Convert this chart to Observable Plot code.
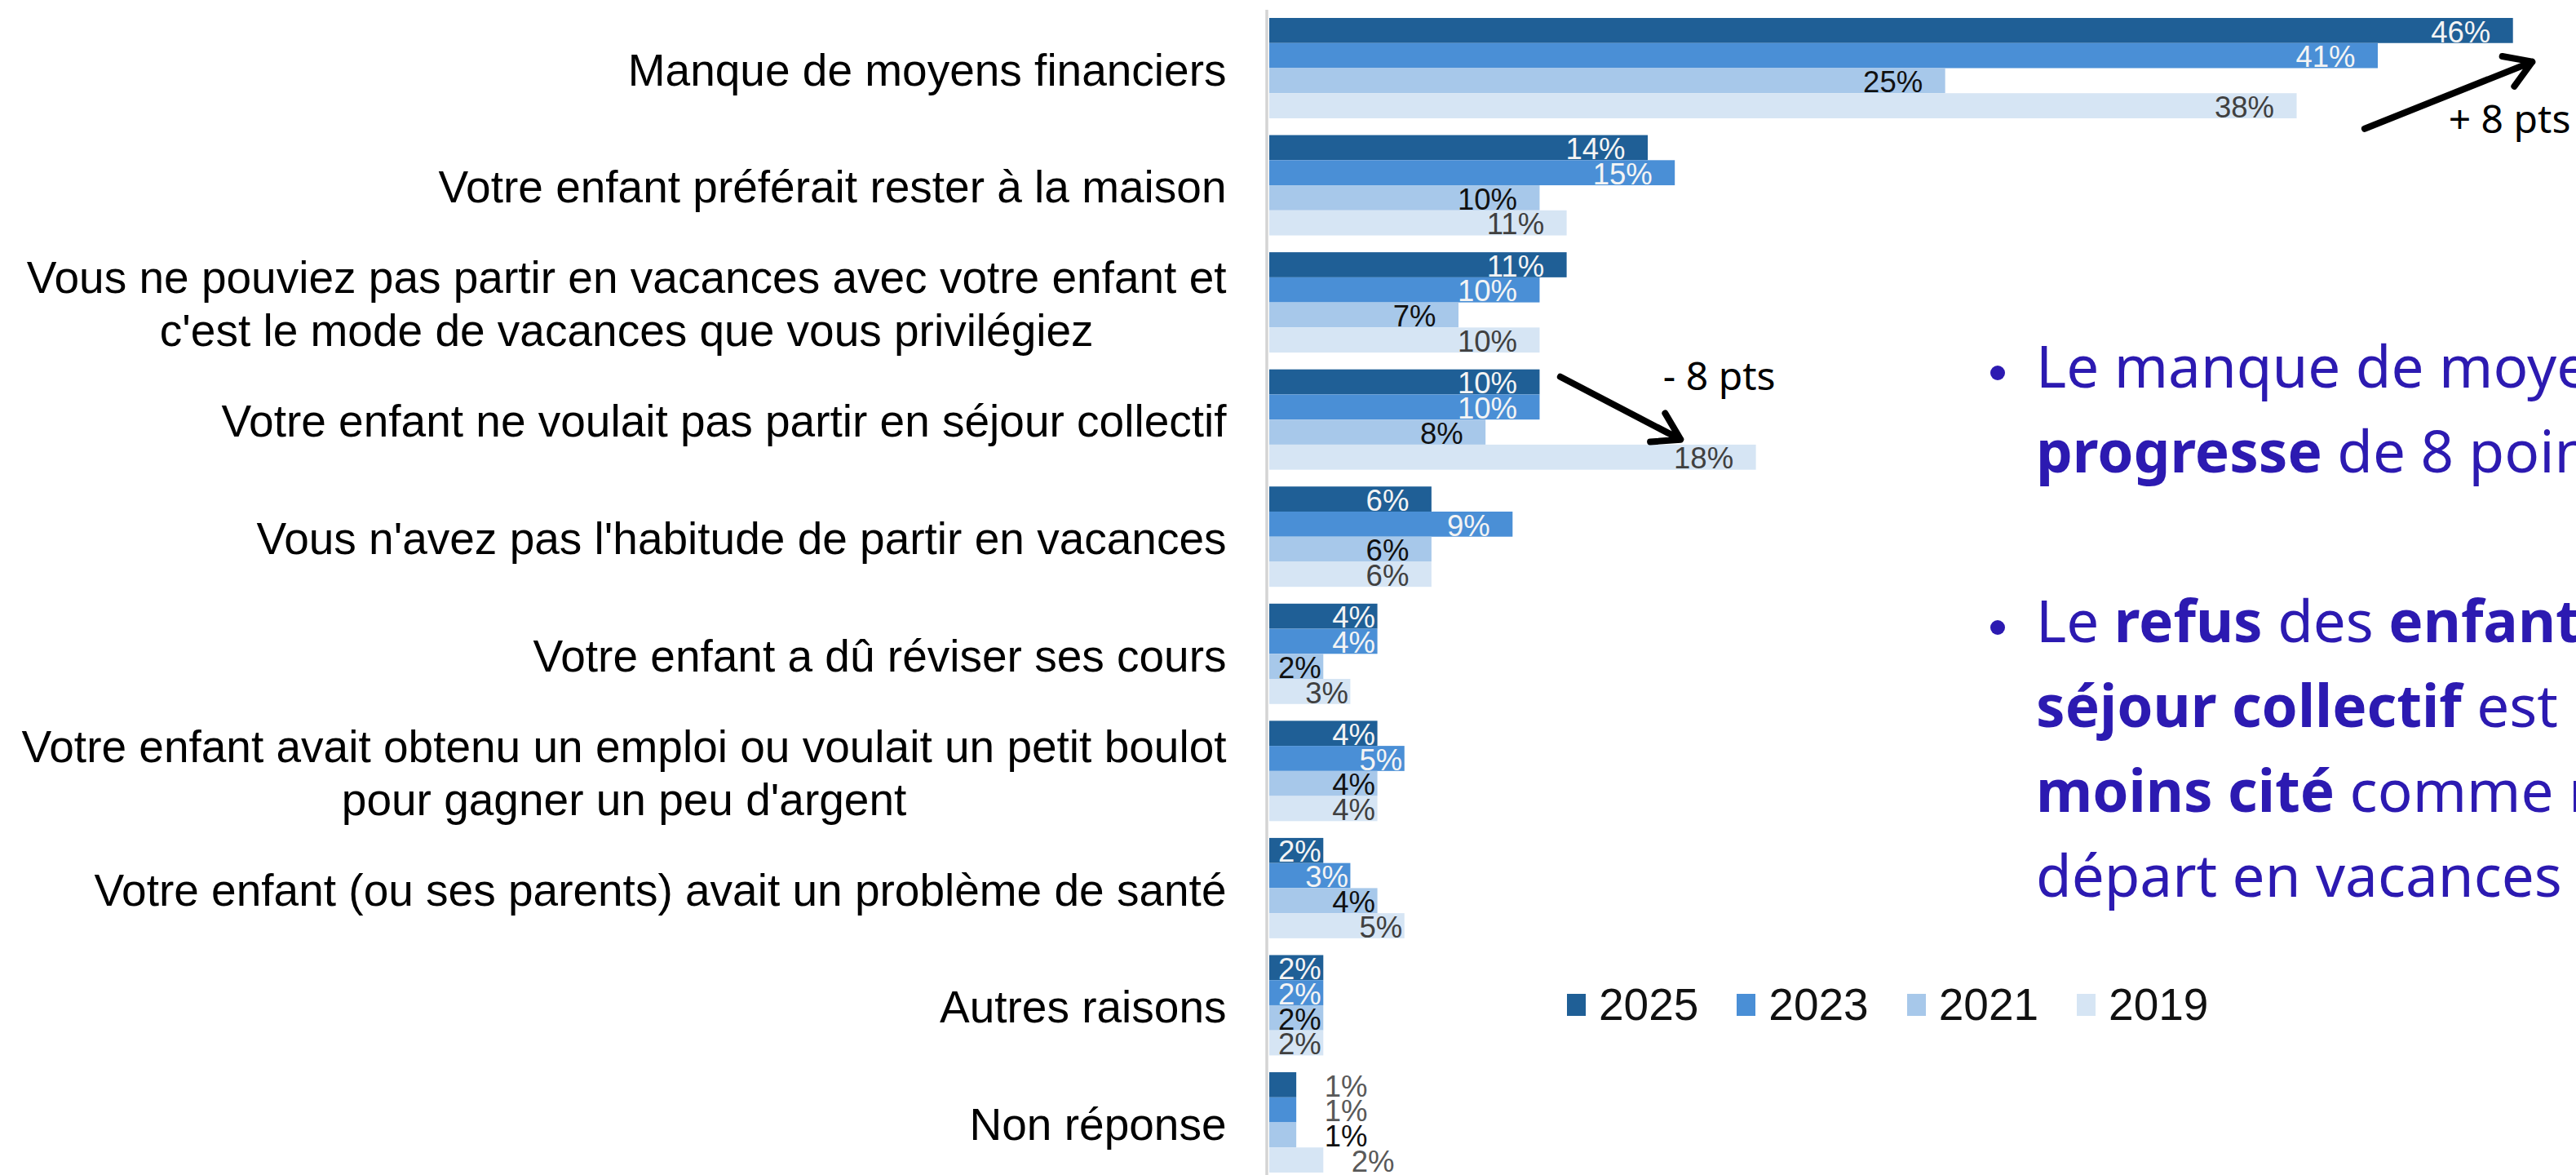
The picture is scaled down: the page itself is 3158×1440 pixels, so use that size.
<!DOCTYPE html>
<html>
<head>
<meta charset="utf-8">
<script src="https://cdn.jsdelivr.net/npm/d3@7"></script>
<script src="https://cdn.jsdelivr.net/npm/@observablehq/plot@0.6"></script>
<style>
  html, body { margin: 0; padding: 0; background: #fff; overflow: hidden; width: 3158px; height: 1440px; }
  #wrap { position: relative; width: 3158px; height: 1440px; overflow: hidden; background: #fff; }
  #chart { position: absolute; left: 0; top: 0; }
  .note { position: absolute; left: 2496px; font-family: "Noto Sans", sans-serif; font-size: 71px; line-height: 104px; color: #2c1ab1; white-space: nowrap; }
  .note b { font-weight: 700; }
  .bullet { position: absolute; width: 18px; height: 18px; border-radius: 50%; background: #2c1ab1; }
  #legendBox { position: absolute; left: 1921px; top: 1199px; }
  #legendBox > div { font-family: "Liberation Sans", Arial, sans-serif; font-size: 55px; color: #111; margin: 0; }
  #legendBox span { margin-right: 47px; }
  #legendBox span > svg { margin-right: 16px; }
</style>
</head>
<body>
<div id="wrap">
  <div id="chart"></div>
  <div id="legendBox"></div>
  <div class="bullet" style="left:2440px; top:448px;"></div>
  <div class="note" style="top:396px;">Le manque de moyens financiers<br><b>progresse</b> de 8 points</div>
  <div class="bullet" style="left:2440px; top:760px;"></div>
  <div class="note" style="top:708px;">Le <b>refus</b> des <b>enfants</b> de partir en<br><b>séjour collectif</b> est le motif le<br><b>moins cité</b> comme motif de non-<br>départ en vacances</div>
</div>
<script>
// ---------- data ----------
const categories = [
  "Manque de moyens financiers",
  "Votre enfant préférait rester à la maison",
  "Vous ne pouviez pas partir en vacances avec votre enfant et\nc'est le mode de vacances que vous privilégiez",
  "Votre enfant ne voulait pas partir en séjour collectif",
  "Vous n'avez pas l'habitude de partir en vacances",
  "Votre enfant a dû réviser ses cours",
  "Votre enfant avait obtenu un emploi ou voulait un petit boulot\npour gagner un peu d'argent",
  "Votre enfant (ou ses parents) avait un problème de santé",
  "Autres raisons",
  "Non réponse"
];
const years = ["2025", "2023", "2021", "2019"];
const values2025 = [46, 14, 11, 10, 6, 4, 4, 2, 2, 1];
const values2023 = [41, 15, 10, 10, 9, 4, 5, 3, 2, 1];
const values2021 = [25, 10, 7, 8, 6, 2, 4, 4, 2, 1];
const values2019 = [38, 11, 10, 18, 6, 3, 4, 5, 2, 2];
const yearColors = ["#1f5f96", "#4a8fd6", "#a7c8ea", "#d6e5f4"];
const labelColors = ["#f4f4f4", "#f4f4f4", "#111111", "#404040"];
const outsideLabelColors = ["#595959", "#595959", "#111111", "#595959"];

// annotations (changes in points)
const annotations = [
  {cat: 0, text: "+ 8 pts"},
  {cat: 3, text: "- 8 pts"}
];

// ---------- layout helpers ----------
const series = [values2025, values2023, values2021, values2019];
const G = 4.67; // group pitch in bar units
const rows = [];
categories.forEach((c, i) => {
  years.forEach((yr, k) => {
    rows.push({cat: i, year: yr, k, value: series[k][i], y1: i * G + k, y2: i * G + k + 1});
  });
});
const groupMin = i => Math.min(...series.map(s => s[i]));
const isOutside = d => groupMin(d.cat) <= 1;

const labelFont = '"Liberation Sans", Arial, sans-serif';
const catFontSize = 55;
const canvas = document.createElement("canvas");
const ctx = canvas.getContext("2d");
ctx.font = `${catFontSize}px "Liberation Sans", Arial, sans-serif`;
const textWidth = s => Math.max(...s.split("\n").map(l => ctx.measureText(l).width));

const marks = [];
// axis line
marks.push(Plot.ruleX([0], {stroke: "#d4d4d4", strokeWidth: 3.5, dx: -3.5}));
// bars
marks.push(Plot.rect(rows, {x1: () => 0, x2: "value", y1: "y1", y2: "y2", fill: "year"}));
// value labels
years.forEach((yr, k) => {
  const inside = rows.filter(d => d.year === yr && !isOutside(d));
  marks.push(Plot.text(inside.filter(d => d.value >= 6), {
    x: "value", y: d => (d.y1 + d.y2) / 2, text: d => d.value + "%",
    textAnchor: "end", dx: -28, dy: 2, fill: labelColors[k],
    fontSize: 36.5, fontFamily: labelFont
  }));
  marks.push(Plot.text(inside.filter(d => d.value < 6), {
    x: "value", y: d => (d.y1 + d.y2) / 2, text: d => d.value + "%",
    textAnchor: "end", dx: -3, dy: 2, fill: labelColors[k],
    fontSize: 36.5, fontFamily: labelFont
  }));
  marks.push(Plot.text(rows.filter(d => d.year === yr && isOutside(d)), {
    x: "value", y: d => (d.y1 + d.y2) / 2, text: d => d.value + "%",
    textAnchor: "start", dx: 34, dy: 2, fill: outsideLabelColors[k],
    fontSize: 36.5, fontFamily: labelFont
  }));
});
// category labels (right-aligned block, lines centred)
categories.forEach((c, i) => {
  const w = textWidth(c);
  marks.push(Plot.text([c], {
    x: () => 0, y: () => i * G + 2, text: d => d,
    textAnchor: "middle", dx: -(53 + w / 2), lineHeight: 1.18,
    fill: "#000", fontSize: catFontSize, fontFamily: labelFont
  }));
});
// arrows
const arrowData = annotations.map(a => {
  const i = a.cat;
  if (values2025[i] > values2019[i]) {
    return {x1: values2019[i] + 2.5, y1: i * G + 4.4, x2: values2025[i] + 0.7, y2: i * G + 1.73,
            tx: values2019[i] + 5.6, ty: i * G + 4.58, text: a.text};
  } else {
    return {x1: values2025[i] + 0.75, y1: i * G + 0.28, x2: values2019[i] - 2.8, y2: i * G + 2.78,
            tx: values2025[i] + 4.55, ty: i * G + 0.82, text: a.text};
  }
});
marks.push(Plot.arrow(arrowData, {x1: "x1", y1: "y1", x2: "x2", y2: "y2", stroke: "#000", strokeWidth: 8, headLength: 7, headAngle: 64}));
marks.push(Plot.text(arrowData, {x: "tx", y: "ty", text: "text", textAnchor: "start", lineAnchor: "bottom",
  fill: "#000", fontSize: 48, fontFamily: '"Noto Sans", sans-serif'}));

const chart = Plot.plot({
  width: 3158,
  height: 1440,
  marginLeft: 1556,
  marginRight: 11,
  marginTop: 12,
  marginBottom: 0,
  x: {domain: [0, 48], axis: null},
  y: {domain: [0, 9 * G + 4], reverse: true, axis: null, insetTop: 10, insetBottom: 3},
  color: {domain: years, range: yearColors},
  style: {background: "transparent", fontFamily: labelFont, overflow: "visible"},
  marks
});
document.getElementById("chart").appendChild(chart);

const legend = Plot.legend({
  color: {domain: years, range: yearColors},
  legend: "swatches",
  swatchWidth: 23,
  swatchHeight: 27,
  className: "yrs"
});
document.getElementById("legendBox").appendChild(legend);
</script>
</body>
</html>
